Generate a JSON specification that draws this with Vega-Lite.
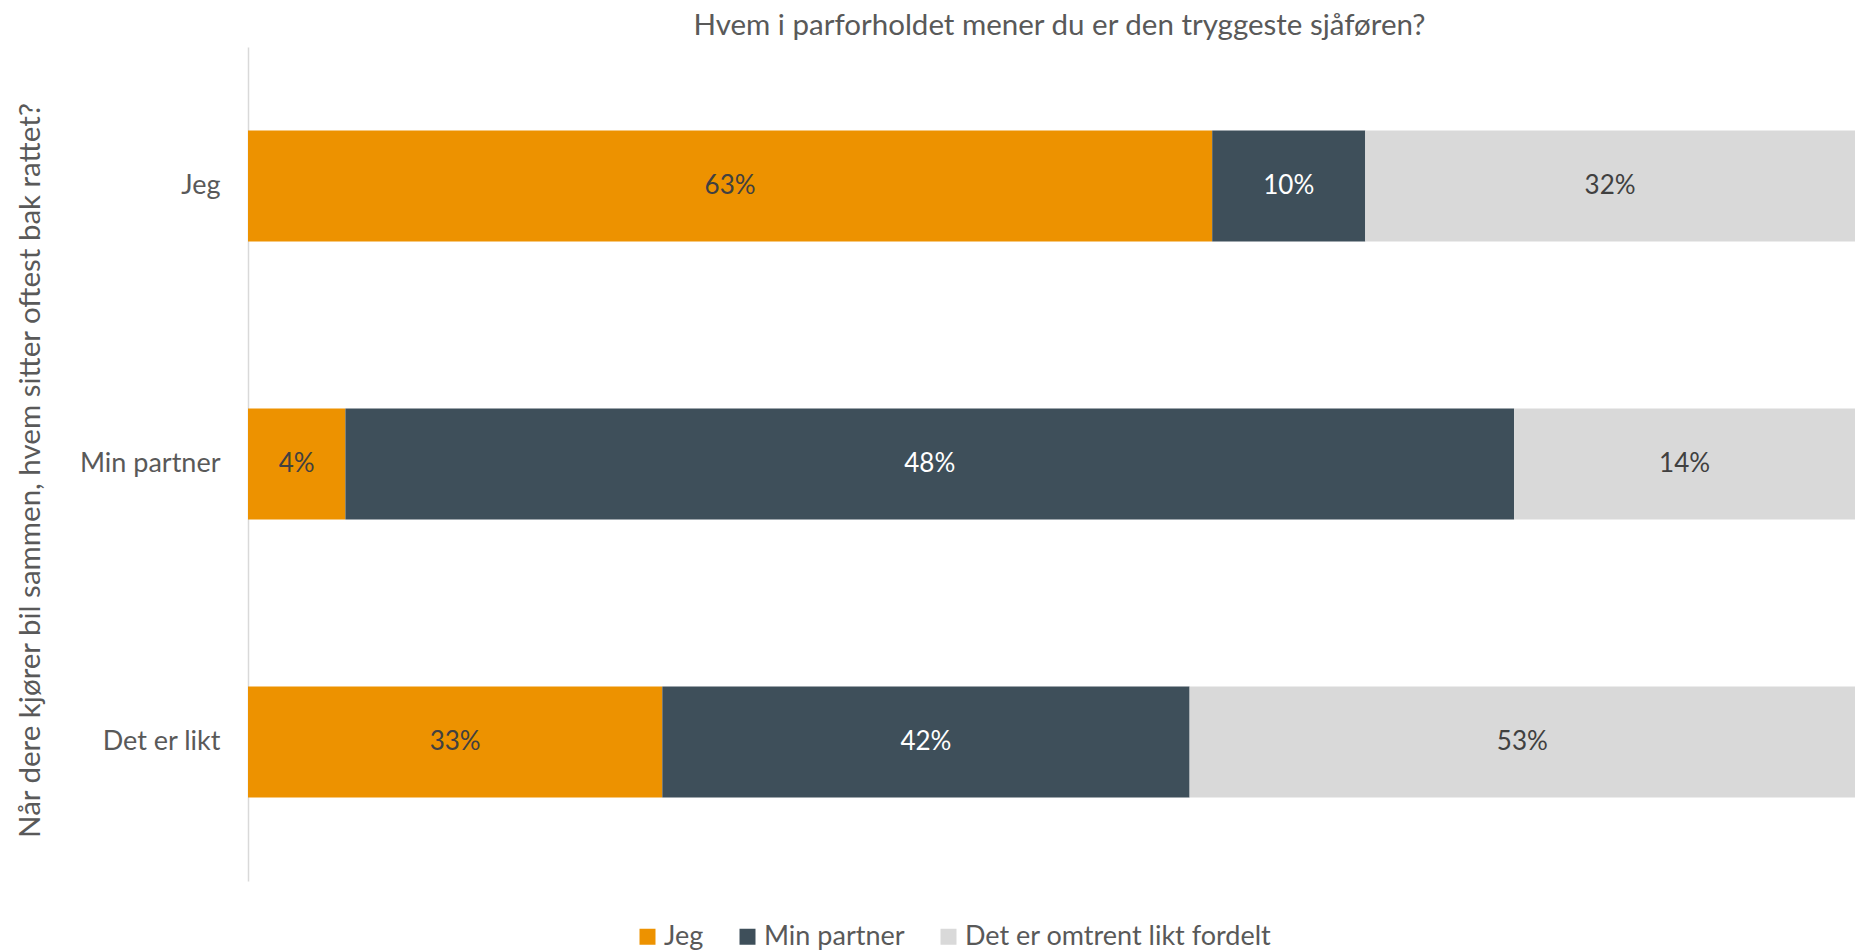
{
  "$schema": "https://vega.github.io/schema/vega-lite/v6.json",
  "width": 1607,
  "height": 834,
  "autosize": {"type": "none"},
  "padding": {"left": 248, "top": 47, "right": 0, "bottom": 69},
  "background": "white",
  "title": {
    "text": "Hvem i parforholdet mener du er den tryggeste sjåføren?",
    "font": "Lato",
    "fontSize": 29.5,
    "fontWeight": "normal",
    "color": "#595959",
    "anchor": "middle",
    "baseline": "alphabetic",
    "offset": 13,
    "dy": 30,
    "dx": 8
  },
  "data": {
    "values": [
      {"sjafor": "Jeg", "svar": "Jeg", "nr": 1, "andel": 0.63},
      {"sjafor": "Jeg", "svar": "Min partner", "nr": 2, "andel": 0.10},
      {"sjafor": "Jeg", "svar": "Det er omtrent likt fordelt", "nr": 3, "andel": 0.32},
      {"sjafor": "Min partner", "svar": "Jeg", "nr": 1, "andel": 0.04},
      {"sjafor": "Min partner", "svar": "Min partner", "nr": 2, "andel": 0.48},
      {"sjafor": "Min partner", "svar": "Det er omtrent likt fordelt", "nr": 3, "andel": 0.14},
      {"sjafor": "Det er likt", "svar": "Jeg", "nr": 1, "andel": 0.33},
      {"sjafor": "Det er likt", "svar": "Min partner", "nr": 2, "andel": 0.42},
      {"sjafor": "Det er likt", "svar": "Det er omtrent likt fordelt", "nr": 3, "andel": 0.53}
    ]
  },
  "encoding": {
    "y": {
      "field": "sjafor",
      "type": "nominal",
      "sort": ["Jeg", "Min partner", "Det er likt"],
      "title": "Når dere kjører bil sammen, hvem sitter oftest bak rattet?",
      "scale": {"paddingInner": 0.6, "paddingOuter": 0.3},
      "axis": {
        "domainColor": "#D9D9D9",
        "domainWidth": 1.5,
        "ticks": false,
        "grid": false,
        "labelFont": "Lato",
        "labelFontSize": 27,
        "labelColor": "#595959",
        "labelPadding": 28,
        "titleFont": "Lato",
        "titleFontSize": 29.5,
        "titleFontWeight": "normal",
        "titleColor": "#595959",
        "titleAngle": 270,
        "titleX": -218,
        "titleY": 423,
        "titleAlign": "center",
        "titleBaseline": "middle"
      }
    },
    "order": {"field": "nr", "type": "quantitative", "sort": "ascending"}
  },
  "layer": [
    {
      "mark": {"type": "bar", "clip": true},
      "encoding": {
        "x": {"field": "andel", "type": "quantitative", "stack": "normalize", "scale": {"domain": [0, 0.989]}, "axis": null},
        "color": {
          "field": "svar",
          "type": "nominal",
          "sort": ["Jeg", "Min partner", "Det er omtrent likt fordelt"],
          "scale": {"domain": ["Jeg", "Min partner", "Det er omtrent likt fordelt"], "range": ["#ED9200", "#3E4F5A", "#D9D9D9"]},
          "legend": {
            "orient": "none",
            "direction": "horizontal",
            "legendX": 386,
            "legendY": 876,
            "title": null,
            "symbolType": "square",
            "symbolSize": 256,
            "symbolStrokeWidth": 0,
            "symbolOpacity": 1,
            "labelFont": "Lato",
            "labelFontSize": 27,
            "labelColor": "#595959",
            "labelOffset": 3,
            "labelLimit": 600,
            "columnPadding": 30,
            "padding": 0
          }
        }
      }
    },
    {
      "mark": {"type": "text", "font": "Lato", "fontSize": 26, "align": "center", "baseline": "middle"},
      "encoding": {
        "x": {"field": "andel", "type": "quantitative", "stack": "normalize", "bandPosition": 0.5},
        "text": {"field": "andel", "type": "quantitative", "format": ".0%"},
        "color": {
          "field": "svar",
          "type": "nominal",
          "sort": ["Jeg", "Min partner", "Det er omtrent likt fordelt"],
          "scale": {"domain": ["Jeg", "Min partner", "Det er omtrent likt fordelt"], "range": ["#404040", "#FFFFFF", "#404040"]},
          "legend": null
        }
      }
    }
  ],
  "resolve": {"scale": {"color": "independent"}},
  "config": {"view": {"stroke": null}}
}
